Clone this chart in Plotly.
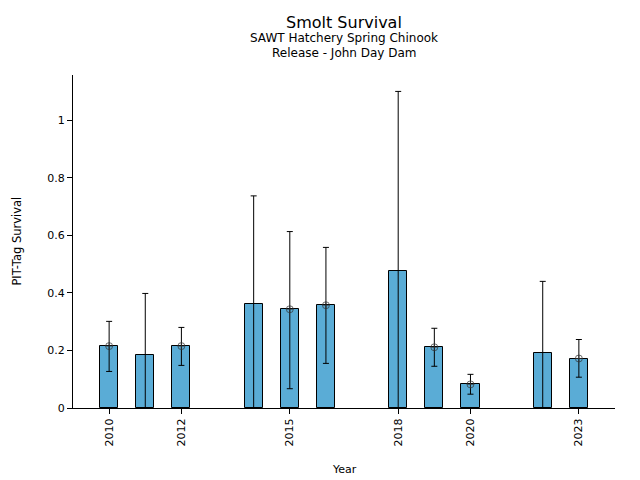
import plotly.graph_objects as go

years = [2010, 2011, 2012, 2014, 2015, 2016, 2018, 2019, 2020, 2022, 2023]
survival = [0.215, 0.183, 0.215, 0.360, 0.343, 0.357, 0.475, 0.211, 0.082, 0.190, 0.172]
upper_ci = [0.301, 0.398, 0.280, 0.737, 0.613, 0.558, 1.100, 0.277, 0.117, 0.440, 0.238]
lower_ci = [0.127, 0.0, 0.148, 0.0, 0.067, 0.155, 0.0, 0.145, 0.048, 0.0, 0.107]
has_marker = [True, False, True, False, True, True, False, True, True, False, True]

tick_years = [2010, 2012, 2015, 2018, 2020, 2023]
y_ticks = [0, 0.2, 0.4, 0.6, 0.8, 1]
y_tick_labels = ["0", "0.2", "0.4", "0.6", "0.8", "1"]

font = "DejaVu Sans"

fig = go.Figure()
fig.add_trace(go.Bar(
    x=years, y=survival, width=0.5,
    marker=dict(color="#5aacd6", line=dict(color="black", width=1)),
    showlegend=False, hoverinfo="skip",
))
fig.add_trace(go.Scatter(
    x=years, y=survival, mode="markers",
    marker=dict(symbol="circle-cross-open", color="#333333",
                size=[7 if m else 0 for m in has_marker], line=dict(width=1)),
    error_y=dict(type="data", symmetric=False,
                 array=[u - s for u, s in zip(upper_ci, survival)],
                 arrayminus=[s - l for s, l in zip(survival, lower_ci)],
                 color="black", thickness=1, width=3),
    showlegend=False, cliponaxis=False,
))

# page body has an 8px margin, compensate so the plot area lands where the reference has it
fig.update_layout(
    width=640, height=480,
    margin=dict(l=65, r=33, t=67, b=80),
    paper_bgcolor="white", plot_bgcolor="white",
    font=dict(family=font, size=11, color="black"),
    bargap=0,
    xaxis=dict(range=[2009.0, 2024.0], tickmode="array", tickvals=tick_years,
               ticktext=[str(y) for y in tick_years], tickangle=-90,
               showline=True, linecolor="black", linewidth=1,
               ticks="outside", ticklen=5, tickcolor="black",
               showgrid=False, zeroline=False),
    yaxis=dict(range=[0, 1.157], tickmode="array", tickvals=y_ticks,
               ticktext=y_tick_labels,
               showline=True, linecolor="black", linewidth=1,
               ticks="outside", ticklen=5, tickcolor="black",
               showgrid=False, zeroline=False),
    annotations=[
        dict(text="Smolt Survival", x=0.5, y=1.159, xref="paper", yref="paper",
             showarrow=False, font=dict(size=16), yanchor="middle"),
        dict(text="SAWT Hatchery Spring Chinook", x=0.5, y=1.110, xref="paper", yref="paper",
             showarrow=False, font=dict(size=12), yanchor="middle"),
        dict(text="Release - John Day Dam", x=0.5, y=1.066, xref="paper", yref="paper",
             showarrow=False, font=dict(size=12), yanchor="middle"),
        dict(text="PIT-Tag Survival", x=-0.105, y=0.5, xref="paper", yref="paper",
             showarrow=False, textangle=-90, font=dict(size=11.5),
             xanchor="center", yanchor="middle"),
        dict(text="Year", x=0.5, y=-0.186, xref="paper", yref="paper",
             showarrow=False, font=dict(size=11), yanchor="middle"),
    ],
)

fig.write_html("out.html")
